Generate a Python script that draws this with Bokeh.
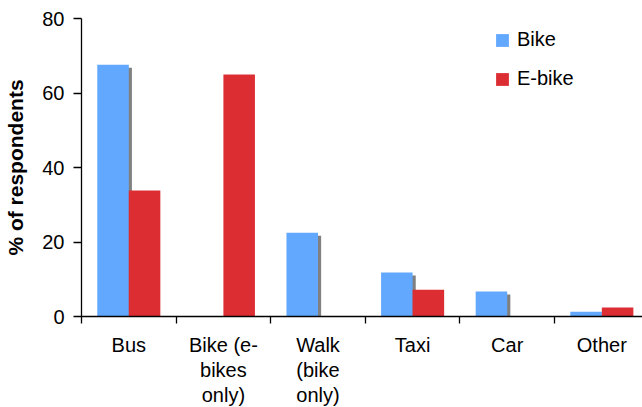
from bokeh.plotting import figure
from bokeh.models import Range1d, FixedTicker, ColumnDataSource, Legend, LegendItem
from bokeh.transform import dodge
from bokeh.core.properties import value
from bokeh.embed import file_html
from bokeh.resources import INLINE

categories = ["Bus", "Bike (e-\nbikes\nonly)", "Walk\n(bike\nonly)", "Taxi", "Car", "Other"]
bike = [67.6, 0, 22.5, 11.8, 6.7, 1.3]
ebike = [33.8, 65.0, 0, 7.2, 0, 2.4]
y_ticks = [0, 20, 40, 60, 80]

BLUE = "#62A8FE"
RED = "#DC2D33"
SHADOW = "#808080"
FONT = "Liberation Sans"

n = len(categories)
idx = list(range(n))
centers = [i + 0.5 for i in idx]
SH_Y = 0.8  # shadow drop in data units (~3px)
src = ColumnDataSource(dict(
    x=centers, bike=bike, ebike=ebike,
    shadow=[max(0.0, v - SH_Y) for v in bike],
    label=categories, base=[0] * n,
))

p = figure(width=642, height=407, output_backend="svg", toolbar_location=None,
           x_range=Range1d(0, 5.93), y_range=Range1d(0, 80),
           min_border_top=18, min_border_right=0, min_border_left=81,
           min_border_bottom=91)
p.outline_line_color = None
p.xgrid.visible = False
p.ygrid.visible = False
p.background_fill_color = "white"
p.border_fill_color = "white"

w = 1 / 3
p.vbar(x=dodge("x", -1 / 6 + 0.033, range=p.x_range), top="shadow", width=w,
       source=src, fill_color=SHADOW, line_color=None)
rb = p.vbar(x=dodge("x", -1 / 6, range=p.x_range), top="bike", width=w,
            source=src, fill_color=BLUE, line_color=None)
rr = p.vbar(x=dodge("x", 1 / 6, range=p.x_range), top="ebike", width=w,
            source=src, fill_color=RED, line_color=None)

# category labels under the axis
p.text(x="x", y="base", text="label", source=src, text_align="center",
       text_baseline="top", y_offset=17, text_font=value(FONT),
       text_font_size="20px", text_line_height=1.15, text_color="black",
       level="overlay")

xa = p.xaxis[0]
xa.ticker = FixedTicker(ticks=[float(i) for i in range(n + 1)], minor_ticks=[])
xa.major_label_text_font_size = "0px"
xa.major_label_text_color = None
xa.major_tick_out = 7
xa.major_tick_in = 0
xa.minor_tick_out = 0
xa.minor_tick_in = 0
xa.axis_line_color = "black"
xa.major_tick_line_color = "black"
xa.axis_line_width = 1.3
xa.major_tick_line_width = 1.3

ya = p.yaxis[0]
ya.ticker = FixedTicker(ticks=y_ticks, minor_ticks=[])
ya.major_tick_out = 8
ya.major_tick_in = 0
ya.minor_tick_out = 0
ya.minor_tick_in = 0
ya.major_label_standoff = 9
ya.major_label_text_font = FONT
ya.major_label_text_font_size = "20px"
ya.major_label_text_color = "black"
ya.axis_label = "% of respondents"
ya.axis_label_text_font = FONT
ya.axis_label_text_font_size = "21px"
ya.axis_label_text_font_style = "bold"
ya.axis_label_text_color = "black"
ya.axis_label_standoff = 12
ya.axis_line_color = "black"
ya.major_tick_line_color = "black"
ya.axis_line_width = 1.3
ya.major_tick_line_width = 1.3

legend = Legend(items=[LegendItem(label="Bike", renderers=[rb]),
                       LegendItem(label="E-bike", renderers=[rr])],
                location=(413, 226), orientation="vertical")
legend.glyph_width = 16
legend.glyph_height = 16
legend.label_height = 16
legend.spacing = 16
legend.padding = 0
legend.margin = 0
legend.label_standoff = 7
legend.label_text_font = FONT
legend.label_text_font_size = "20px"
legend.label_text_color = "black"
legend.border_line_color = None
legend.background_fill_color = None
p.add_layout(legend)

open("out.html", "w").write(file_html(p, INLINE))
